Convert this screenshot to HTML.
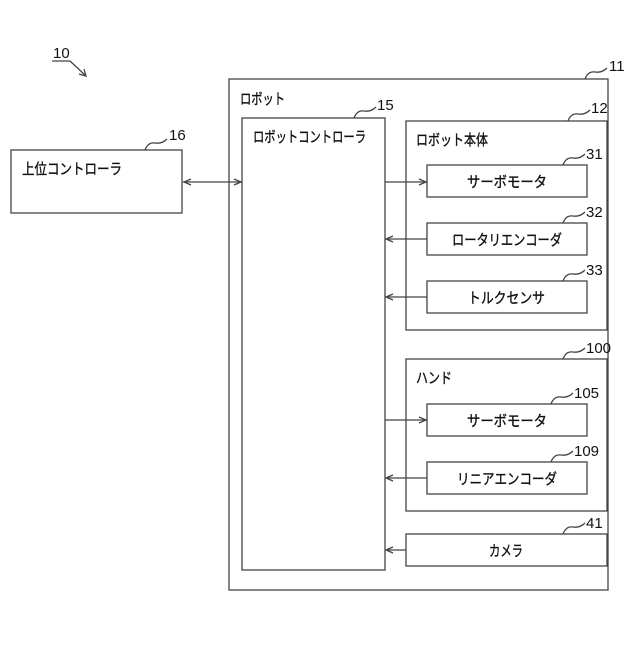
<!DOCTYPE html>
<html><head><meta charset="utf-8"><style>
html,body{margin:0;padding:0;background:#fff;}
svg text{font-family:"Liberation Sans","Noto Sans CJK JP",sans-serif;fill:#111;}
.j{stroke:#111;stroke-width:0.35;}
</style></head><body>
<svg width="640" height="640" viewBox="0 0 640 640" xmlns="http://www.w3.org/2000/svg">
<g fill="none" stroke="#444" stroke-width="1.3">
<rect x="229" y="79" width="379" height="511"/>
<rect x="242" y="118" width="143" height="452"/>
<rect x="11" y="150" width="171" height="63"/>
<rect x="406" y="121" width="201" height="209"/>
<rect x="427" y="165" width="160" height="32"/>
<rect x="427" y="223" width="160" height="32"/>
<rect x="427" y="281" width="160" height="32"/>
<rect x="406" y="359" width="201" height="152"/>
<rect x="427" y="404" width="160" height="32"/>
<rect x="427" y="462" width="160" height="32"/>
<rect x="406" y="534" width="201" height="32"/>
<line x1="183" y1="182" x2="242" y2="182"/>
<polyline points="191,179 184,182 191,185"/><polyline points="234,179 241,182 234,185"/>
<line x1="385" y1="182" x2="427" y2="182"/><polyline points="419,179 426,182 419,185"/>
<line x1="386" y1="239" x2="427" y2="239"/><polyline points="393,236 386,239 393,242"/>
<line x1="386" y1="297" x2="427" y2="297"/><polyline points="393,294 386,297 393,300"/>
<line x1="385" y1="420" x2="427" y2="420"/><polyline points="419,417 426,420 419,423"/>
<line x1="386" y1="478" x2="427" y2="478"/><polyline points="393,475 386,478 393,481"/>
<line x1="386" y1="550" x2="406" y2="550"/><polyline points="393,547 386,550 393,553"/>
<line x1="52" y1="61" x2="70" y2="61"/>
<line x1="70" y1="61" x2="85" y2="75"/><polyline points="79,74 86,76 84,69"/>
<path d="M145,150 q3,-8 10,-7 t12,-4"/>
<path d="M585,79 q3,-8 10,-7 t12,-4"/>
<path d="M354,118 q3,-8 10,-7 t12,-4"/>
<path d="M568,121 q3,-8 10,-7 t12,-4"/>
<path d="M563,165 q3,-8 10,-7 t12,-4"/>
<path d="M563,223 q3,-8 10,-7 t12,-4"/>
<path d="M563,281 q3,-8 10,-7 t12,-4"/>
<path d="M563,359 q3,-8 10,-7 t12,-4"/>
<path d="M551,404 q3,-8 10,-7 t12,-4"/>
<path d="M551,462 q3,-8 10,-7 t12,-4"/>
<path d="M563,534 q3,-8 10,-7 t12,-4"/>
</g>
<g font-size="15">
<text x="53" y="58">10</text>
<text x="169" y="140">16</text>
<text x="609" y="71">11</text>
<text x="377" y="110">15</text>
<text x="591" y="113">12</text>
<text x="586" y="159">31</text>
<text x="586" y="217">32</text>
<text x="586" y="275">33</text>
<text x="586" y="353">100</text>
<text x="574" y="398">105</text>
<text x="574" y="456">109</text>
<text x="586" y="528">41</text>
</g>
<g font-size="15" class="j" lengthAdjust="spacingAndGlyphs">
<text x="22" y="174" textLength="100" lengthAdjust="spacingAndGlyphs">上位コントローラ</text>
<text x="240" y="104" textLength="45" lengthAdjust="spacingAndGlyphs">ロボット</text>
<text x="253" y="142" textLength="113" lengthAdjust="spacingAndGlyphs">ロボットコントローラ</text>
<text x="416" y="145" textLength="72" lengthAdjust="spacingAndGlyphs">ロボット本体</text>
<text x="416" y="383" textLength="36" lengthAdjust="spacingAndGlyphs">ハンド</text>
<text x="467" y="187" textLength="80" lengthAdjust="spacingAndGlyphs">サーボモータ</text>
<text x="452" y="245" textLength="110" lengthAdjust="spacingAndGlyphs">ロータリエンコーダ</text>
<text x="468" y="303" textLength="77" lengthAdjust="spacingAndGlyphs">トルクセンサ</text>
<text x="467" y="426" textLength="80" lengthAdjust="spacingAndGlyphs">サーボモータ</text>
<text x="457" y="484" textLength="100" lengthAdjust="spacingAndGlyphs">リニアエンコーダ</text>
<text x="489" y="556" textLength="34" lengthAdjust="spacingAndGlyphs">カメラ</text>
</g>
</svg>
</body></html>
